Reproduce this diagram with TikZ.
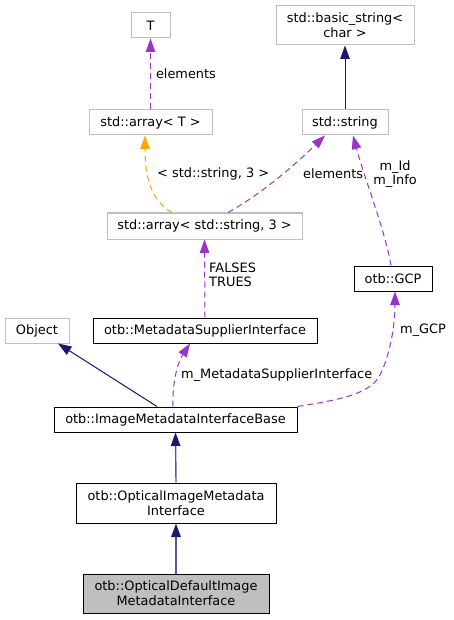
\documentclass[tikz,border=0pt]{standalone}
\usepackage{fontspec}
\setmainfont{DejaVu Sans}
\usetikzlibrary{arrows.meta}
\definecolor{navy}{HTML}{191970}
\definecolor{purp}{HTML}{9A32CD}
\definecolor{orng}{HTML}{FFA500}
\definecolor{lgray}{HTML}{BFBFBF}
\tikzset{
  box/.style={draw=black, line width=1pt, fill=white, inner sep=0pt, align=center, font=\fontsize{12.9}{15}\selectfont},
  ext/.style={box, draw=lgray},
  cur/.style={box, fill=lgray},
  tip/.style={-{Triangle[length=13.5pt,width=9.5pt]}},
  inh/.style={draw=navy, line width=1pt, tip},
  vinh/.style={draw=navy!72, line width=1.4pt, -{Triangle[length=13.5pt,width=9.5pt,color=navy]}},
  use/.style={draw=purp, line width=1pt, dash pattern=on 6pt off 4pt, tip},
  tmpl/.style={draw=orng, line width=1pt, dash pattern=on 6pt off 4pt, tip},
  lbl/.style={inner sep=0pt, align=left, font=\fontsize{12.9}{14.5}\selectfont},
}
\begin{document}
\begin{tikzpicture}[x=1pt,y=-1pt]
\useasboundingbox (0,0) rectangle (453,620);
\node[ext, minimum width=39pt, minimum height=25pt] (T) at (150.5,25.5) {T};
\node[ext, minimum width=138pt, minimum height=39pt] (bs) at (345,25.5) {std::basic\_string<\\char >};
\node[ext, minimum width=123pt, minimum height=25pt] (arrT) at (150.5,122.5) {std::array< T >};
\node[ext, minimum width=86pt, minimum height=25pt] (str) at (345,122.5) {std::string};
\node[ext, minimum width=195pt, minimum height=26pt] (arrS) at (204.5,226) {std::array< std::string, 3 >};
\node[box, minimum width=78pt, minimum height=25pt] (gcp) at (393,278.5) {otb::GCP};
\node[ext, minimum width=64pt, minimum height=25pt] (obj) at (37,330.5) {Object};
\node[box, minimum width=224pt, minimum height=25pt] (msi) at (205,330.5) {otb::MetadataSupplierInterface};
\node[box, minimum width=243pt, minimum height=25pt] (base) at (175.5,419.5) {otb::ImageMetadataInterfaceBase};
\node[box, minimum width=200pt, minimum height=40pt] (opt) at (176,503) {otb::OpticalImageMetadata\\Interface};
\node[cur, minimum width=186pt, minimum height=39pt] (def) at (176,593.5) {otb::OpticalDefaultImage\\MetadataInterface};

\draw[use] (arrT.north) -- (T.south) node[lbl, midway, right=5pt] {elements};
\draw[inh] (str.north) -- (bs.south);
\draw[tmpl] (arrS.north -| 172,0) .. controls (150,200) and (145,175) .. (arrT.south -| 145,0);
\node[lbl, anchor=west] (l1) at (157,174) {< std::string, 3 >};
\draw[use] (arrS.north -| 228,0) .. controls (265,192) and (300,160) .. (str.south -| 325,0);
\node[lbl, anchor=west] (l2) at (303,174) {elements};
\draw[use] (gcp.north -| 391,0) .. controls (385,230) and (365,180) .. (str.south -| 353,0);
\node[lbl, align=center] (l3) at (395,174) {m\_Id\\m\_Info};
\draw[use] (msi.north) -- (arrS.south) node[lbl, pos=0.55, right=4pt] {FALSES\\TRUES};
\draw[inh] (base.north -| 157,0) -- (obj.south -| 58,0);
\draw[use] (base.north -| 173,0) .. controls (172,382) and (178,362) .. (msi.south -| 190,0);
\node[lbl, anchor=west] (l4) at (181,375) {m\_MetadataSupplierInterface};
\draw[use] (base.north east) .. controls (330,401) and (370,396) .. (380,375) .. controls (392,350) and (395,320) .. (gcp.south -| 395,0);
\node[lbl, anchor=west] (l5) at (400,330) {m\_GCP};
\draw[vinh] (opt.north) -- (base.south);
\draw[vinh] (def.north) -- (opt.south);
\end{tikzpicture}
\end{document}
